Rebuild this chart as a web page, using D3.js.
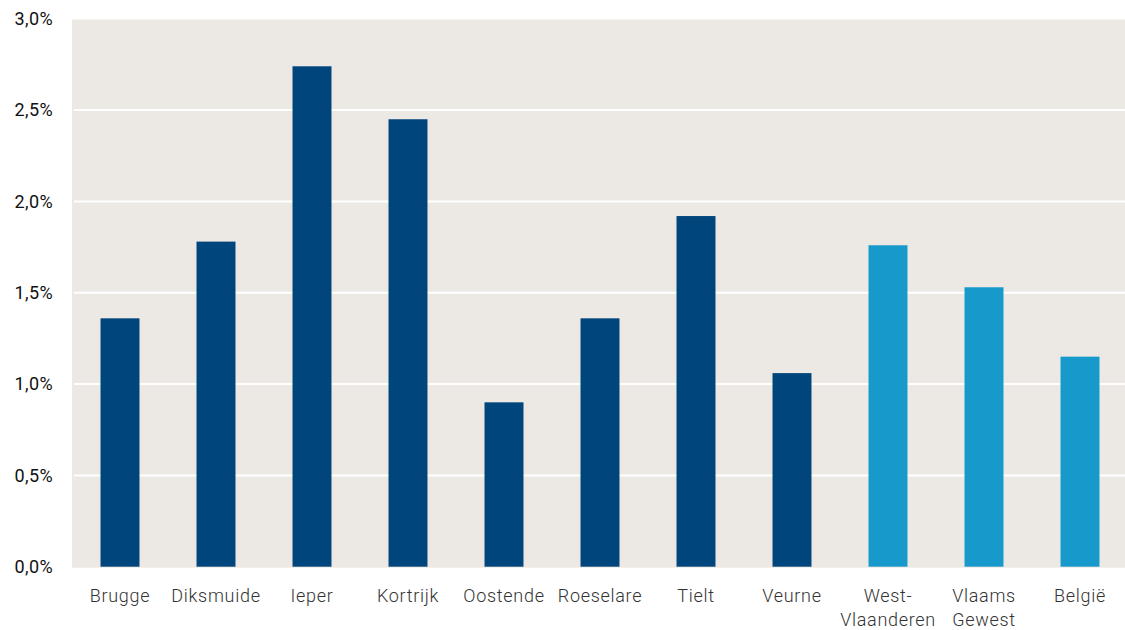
<!DOCTYPE html>
<html><head><meta charset="utf-8">
<script src="https://cdn.jsdelivr.net/npm/d3@7"></script>
<style>body{margin:0;background:#fff}svg{display:block}text{font-family:Roboto,"DejaVu Sans",sans-serif}</style>
</head><body><svg id="c" width="1125" height="630"></svg>
<script>
const categories = ["Brugge","Diksmuide","Ieper","Kortrijk","Oostende","Roeselare","Tielt","Veurne","West-\nVlaanderen","Vlaams\nGewest","België"];
const values = [1.36,1.78,2.74,2.45,0.90,1.36,1.92,1.06,1.76,1.53,1.15];
const groups = ["arr","arr","arr","arr","arr","arr","arr","arr","reg","reg","reg"];
const yTicks = [0,0.5,1.0,1.5,2.0,2.5,3.0];
const colors = {arr:"#00457C", reg:"#1799CB"};

const svg = d3.select("#c");
const x = d3.scaleBand().domain(categories).range([72,1128]).paddingInner(0.594).paddingOuter(0.297);
const y = d3.scaleLinear().domain([0,3]).range([566.7,18.8]);

svg.append("rect").attr("x",72).attr("y",19.5).attr("width",1125-72).attr("height",567.7-19.5).attr("fill","#ECE9E4");

svg.append("g").selectAll("line").data(yTicks.filter(d=>d>0&&d<3)).join("line")
  .attr("x1",74).attr("x2",1125).attr("y1",d=>y(d)).attr("y2",d=>y(d))
  .attr("stroke","#fff").attr("stroke-width",2);

svg.append("g").selectAll("rect").data(categories).join("rect")
  .attr("x",d=>x(d)).attr("width",x.bandwidth())
  .attr("y",(d,i)=>y(values[i])).attr("height",(d,i)=>y(0)-y(values[i]))
  .attr("fill",(d,i)=>colors[groups[i]]);

const fmt = d=>d3.format(".1f")(d).replace(".",",")+"%";
const ya = svg.append("g").attr("transform","translate(53,0)")
  .call(d3.axisLeft(y).tickValues(yTicks).tickFormat(fmt).tickSize(0).tickPadding(0));
ya.select(".domain").remove();
ya.selectAll("text").attr("font-size",18).attr("fill","#111").attr("font-weight",400).attr("letter-spacing",0.4).attr("font-family","Roboto, sans-serif");

const xa = svg.append("g").attr("transform","translate(0,567)")
  .call(d3.axisBottom(x).tickSize(0).tickPadding(0));
xa.select(".domain").remove();
xa.selectAll("text").each(function(d){
  const t = d3.select(this).text("").attr("font-size",18).attr("font-weight",300).attr("letter-spacing",0.7).attr("fill","#333").attr("font-family","Roboto, sans-serif").attr("y",0).attr("dy",null);
  d.split("\n").forEach((s,i)=>t.append("tspan").attr("x",0).attr("y",35+i*24).text(s));
});
</script></body></html>
